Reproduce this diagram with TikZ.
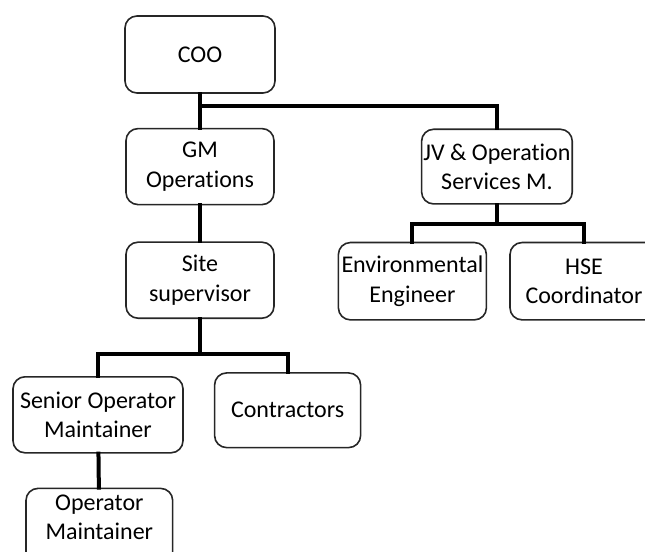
\documentclass[tikz,border=0pt]{standalone}
\usepackage{fontspec}
\setmainfont{Carlito}[Ligatures=NoCommon]
\usepackage{tikz}
\usetikzlibrary{positioning,calc}
\tikzset{
  box/.style={
    draw=black!85,
    line width=1.2pt,
    rounded corners=9pt,
    align=center,
    inner sep=1pt,
    minimum width=111pt,
    minimum height=57pt,
    font=\fontsize{18pt}{22pt}\selectfont
  },
  conn/.style={line width=3pt, line cap=rect}
}
\begin{document}
\begin{tikzpicture}
  \useasboundingbox (-150pt,40.875pt) rectangle (333.75pt,-373.125pt);

  \node[box, minimum width=112.5pt, minimum height=57.75pt] (coo) at (0,0) {COO};
  \node[box, below=25.5pt of coo] (gm) {GM\\ Operations};
  \node[box, below=27pt of gm] (site) {Site\\ supervisor};
  \node[box, minimum width=113pt, minimum height=56pt, right=109.5pt of gm] (jv) {JV \& Operation\\ Services M.};

  \node[box, minimum height=58pt, below=27.75pt of jv, xshift=-63.4pt] (env) {Environmental\\ Engineer};
  \node[box, minimum height=58pt, right=16.5pt of env] (hse) {HSE\\ Coordinator};

  \node[box, minimum width=127.5pt, below=42.75pt of site, xshift=-76.5pt] (senior) {Senior Operator\\ Maintainer};
  \node[box, minimum width=109.5pt, minimum height=56pt, right=22.5pt of senior, yshift=3.4pt] (contr) {Contractors};
  \node[box, minimum width=110pt, text depth=14pt, below=25.5pt of senior, xshift=1pt] (oper) {Operator\\ Maintainer};

  \coordinate (cooBar) at ($(coo.south)+(0,-9pt)$);
  \coordinate (jvBar) at ($(jv.south)+(0,-14.25pt)$);
  \coordinate (siteBar) at ($(site.south)+(0,-26.25pt)$);

  \draw[conn] (coo) -- (gm);
  \draw[conn] (cooBar) -| (jv.north);
  \draw[conn] (gm) -- (site);
  \draw[conn] (jv) -- (jvBar);
  \draw[conn] (jvBar) -| (env.north);
  \draw[conn] (jvBar) -| (hse.north);
  \draw[conn] (site) -- (siteBar);
  \draw[conn] (siteBar) -| (senior.north);
  \draw[conn] (siteBar) -| (contr.north);
  \draw[conn] (senior) -- (oper);
\end{tikzpicture}
\end{document}
